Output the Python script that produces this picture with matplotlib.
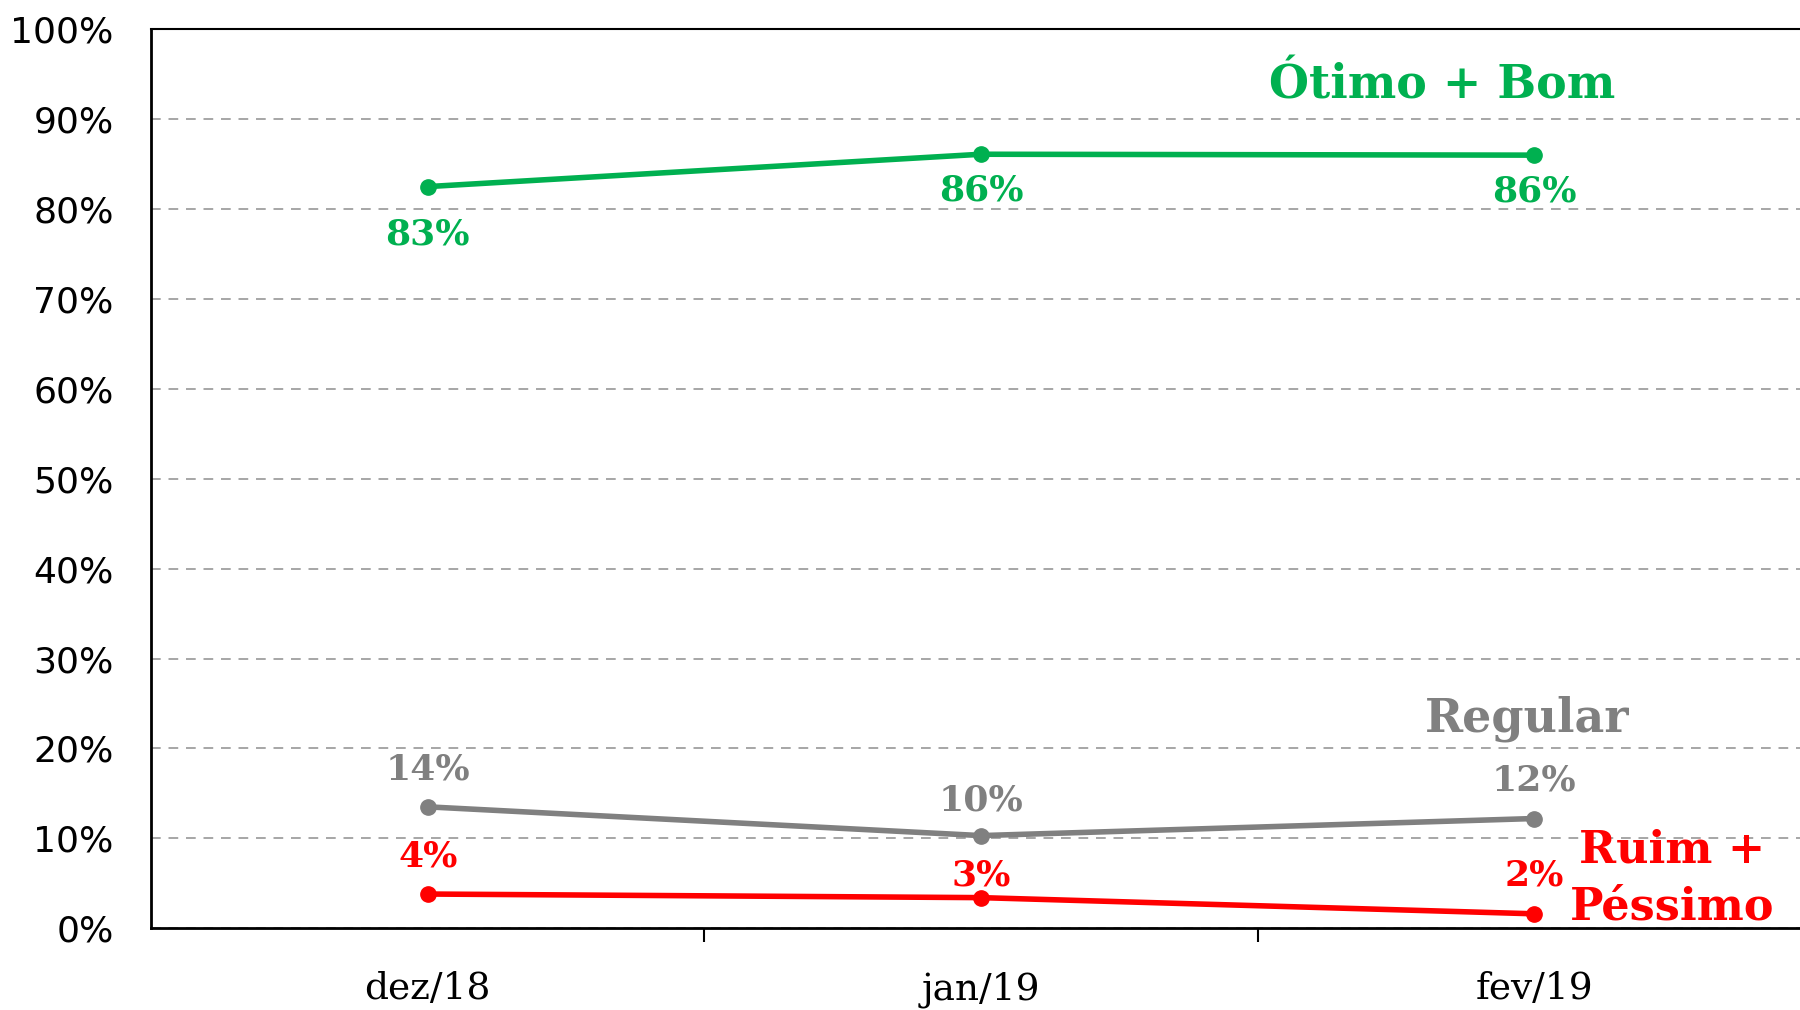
import matplotlib.pyplot as plt
import numpy as np

# ---------- Data ----------
meses = ["dez/18", "jan/19", "fev/19"]
otimo_bom = [82.5, 86.1, 86.0]
regular = [13.5, 10.3, 12.2]
ruim_pessimo = [3.8, 3.4, 1.6]
otimo_labels = ["83%", "86%", "86%"]
regular_labels = ["14%", "10%", "12%"]
ruim_labels = ["4%", "3%", "2%"]

VERDE = "#00B050"
CINZA = "#808080"
VERMELHO = "#FF0000"
SLAB = "DejaVu Serif"

# label offsets (points) per month
OFF_OTIMO = [-22, -14, -14]
OFF_REG = [15, 13, 15]
OFF_RUIM = [15, 4, 15]

fig = plt.figure(figsize=(18, 10.1), dpi=100)
ax = fig.add_axes([0.084, 0.081, 0.922, 0.890])

x = np.arange(len(meses))

for serie, cor in [(otimo_bom, VERDE), (regular, CINZA), (ruim_pessimo, VERMELHO)]:
    ax.plot(x, serie, color=cor, lw=4, marker="o", ms=11, zorder=3)

# value labels
for i in x:
    ax.annotate(otimo_labels[i], (i, otimo_bom[i]), xytext=(0, OFF_OTIMO[i]), textcoords="offset points",
                ha="center", va="top", color=VERDE, fontsize=26, fontweight="bold", family=SLAB)
    ax.annotate(regular_labels[i], (i, regular[i]), xytext=(0, OFF_REG[i]), textcoords="offset points",
                ha="center", va="bottom", color=CINZA, fontsize=26, fontweight="bold", family=SLAB)
    ax.annotate(ruim_labels[i], (i, ruim_pessimo[i]), xytext=(0, OFF_RUIM[i]), textcoords="offset points",
                ha="center", va="bottom", color=VERMELHO, fontsize=26, fontweight="bold", family=SLAB)

# series names
ax.text(1.834, 93.8, "Ótimo + Bom", color=VERDE, fontsize=33, fontweight="bold",
        family=SLAB, ha="center", va="center")
ax.text(1.988, 23.3, "Regular", color=CINZA, fontsize=33, fontweight="bold",
        family=SLAB, ha="center", va="center")
ax.text(2.249, 5.5, "Ruim +\nPéssimo", color=VERMELHO, fontsize=32, fontweight="bold",
        family=SLAB, ha="center", va="center", linespacing=1.4)

# axes
ax.set_xlim(-0.5, 2.5)
ax.set_ylim(0, 100)
ax.set_yticks(np.arange(0, 101, 10))
ax.set_yticklabels([f"{v}%" for v in range(0, 101, 10)], fontsize=26)
ax.set_xticks(x)
ax.set_xticklabels(meses, fontsize=27, family=SLAB)
ax.set_xticks([0.5, 1.5], minor=True)
ax.tick_params(axis="x", which="major", length=0, pad=31)
ax.tick_params(axis="x", which="minor", length=10, width=1.5)
ax.tick_params(axis="y", length=0, pad=27)

ax.yaxis.grid(True, linestyle=(0, (5, 4)), color="#A6A6A6", lw=1.4)
ax.set_axisbelow(True)
for s in ["left", "bottom"]:
    ax.spines[s].set_linewidth(2)
ax.spines["top"].set_linewidth(1.5)
ax.spines["right"].set_visible(False)

fig.savefig("out.png", dpi=100)
